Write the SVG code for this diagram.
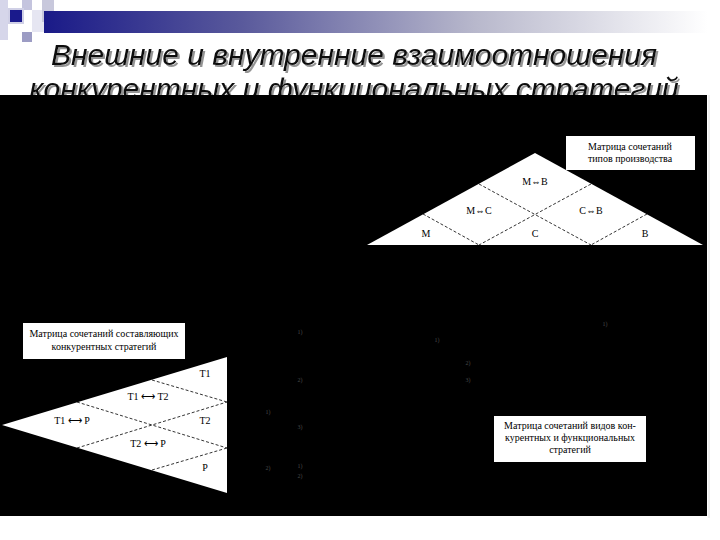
<svg xmlns="http://www.w3.org/2000/svg" width="720" height="540" viewBox="0 0 720 540">
<defs>
<linearGradient id="bar" x1="0" y1="0" x2="1" y2="0">
<stop offset="0" stop-color="#1a1a88"/>
<stop offset="0.3" stop-color="#5a5a9c"/>
<stop offset="0.65" stop-color="#b8b8cc"/>
<stop offset="1" stop-color="#ffffff"/>
</linearGradient>
<filter id="shadow" x="-5%" y="-20%" width="110%" height="140%">
<feDropShadow dx="2" dy="2" stdDeviation="0.6" flood-color="#888" flood-opacity="0.9"/>
</filter>
<style>
.title{font-family:"Liberation Sans",Arial,sans-serif;font-style:italic;font-size:30px;text-anchor:middle;fill:#111}
.lbl{font-family:"Liberation Serif","Times New Roman",serif;font-size:10px;fill:#000;text-anchor:middle}
.cap{font-family:"Liberation Serif","Times New Roman",serif;font-size:10px;fill:#000;text-anchor:middle}
.dash{stroke:#000;stroke-width:0.8;stroke-dasharray:3,2;fill:none}
.tri{fill:#fff;stroke:none}
.box{fill:#fff;stroke:none}
.mk{font-family:"Liberation Serif",serif;font-size:6px;fill:#4a4a4a;text-anchor:middle}
</style>
</defs>
<rect width="720" height="540" fill="#fff"/>
<g id="decor">
<rect x="0" y="0" width="8" height="40" fill="#d6d6ea"/>
<rect x="22" y="0" width="10" height="10" fill="#c4c4de"/>
<rect x="32" y="10" width="12" height="22" fill="#e6e6f2"/>
<rect x="42" y="0" width="12" height="22" fill="#c8c8dc"/>
<rect x="44" y="11" width="664" height="22" fill="url(#bar)"/>
<rect x="22" y="32" width="10" height="10" fill="#9c9cc4"/>
<rect x="8" y="8" width="16" height="16" fill="#d0d0e6"/>
<rect x="10" y="10" width="12" height="12" fill="#1a1a8c"/>
</g>
<g id="title" filter="url(#shadow)">
<text class="title" x="354" y="65">Внешние и внутренние взаимоотношения</text>
<text class="title" x="354" y="99">конкурентных и функциональных стратегий</text>
</g>
<rect x="0" y="95" width="707" height="421" fill="#000"/>
<line x1="709" y1="95" x2="709" y2="518" stroke="#e2e2e2" stroke-width="1"/>
<g id="production-matrix">
<polygon class="tri" points="535,153 703,245 367,245"/>
<rect class="box" x="566" y="136" width="129" height="34"/>
<text class="cap" x="630" y="150">Матрица сочетаний</text>
<text class="cap" x="630" y="162">типов производства</text>
<text class="lbl" x="535" y="185">М⇔В</text>
<text class="lbl" x="479" y="214">М⇔С</text>
<text class="lbl" x="591" y="214">С⇔В</text>
<text class="lbl" x="426" y="237">М</text>
<text class="lbl" x="535" y="237">С</text>
<text class="lbl" x="645" y="237">В</text>
</g>
<g id="competitive-matrix">
<polygon class="tri" points="2,425 227,357 227,493"/>
<rect class="box" x="23" y="323" width="162" height="36"/>
<text class="cap" x="104" y="337">Матрица сочетаний составляющих</text>
<text class="cap" x="104" y="350">конкурентных стратегий</text>
<text class="lbl" x="205" y="377">Т1</text>
<text class="lbl" x="148" y="400">Т1 ⟷ Т2</text>
<text class="lbl" x="72" y="424">Т1 ⟷ Р</text>
<text class="lbl" x="205" y="424">Т2</text>
<text class="lbl" x="148" y="447">Т2 ⟷ Р</text>
<text class="lbl" x="205" y="471">Р</text>
</g>
<g id="combined-matrix">
<rect class="box" x="494" y="416" width="152" height="46"/>
<text class="cap" x="570" y="429">Матрица сочетаний видов кон-</text>
<text class="cap" x="570" y="441">курентных и функциональных</text>
<text class="cap" x="570" y="453">стратегий</text>
</g>
<g id="connectors">
<line class="dash" x1="423" y1="214" x2="479" y2="245"/>
<line class="dash" x1="479" y1="184" x2="591" y2="245"/>
<line class="dash" x1="591" y1="184" x2="479" y2="245"/>
<line class="dash" x1="647" y1="214" x2="591" y2="245"/>
<line class="dash" x1="152" y1="380" x2="227" y2="402"/>
<line class="dash" x1="77" y1="402" x2="227" y2="448"/>
<line class="dash" x1="77" y1="448" x2="227" y2="402"/>
<line class="dash" x1="152" y1="470" x2="227" y2="448"/>
</g>
<g id="markers">
<text class="mk" x="300" y="334">1)</text>
<text class="mk" x="437" y="342">1)</text>
<text class="mk" x="605" y="326">1)</text>
<text class="mk" x="468" y="365">2)</text>
<text class="mk" x="300" y="382">2)</text>
<text class="mk" x="468" y="382">3)</text>
<text class="mk" x="268" y="414">1)</text>
<text class="mk" x="300" y="429">3)</text>
<text class="mk" x="268" y="470">2)</text>
<text class="mk" x="300" y="468">1)</text>
<text class="mk" x="300" y="478">2)</text>
</g>
</svg>
